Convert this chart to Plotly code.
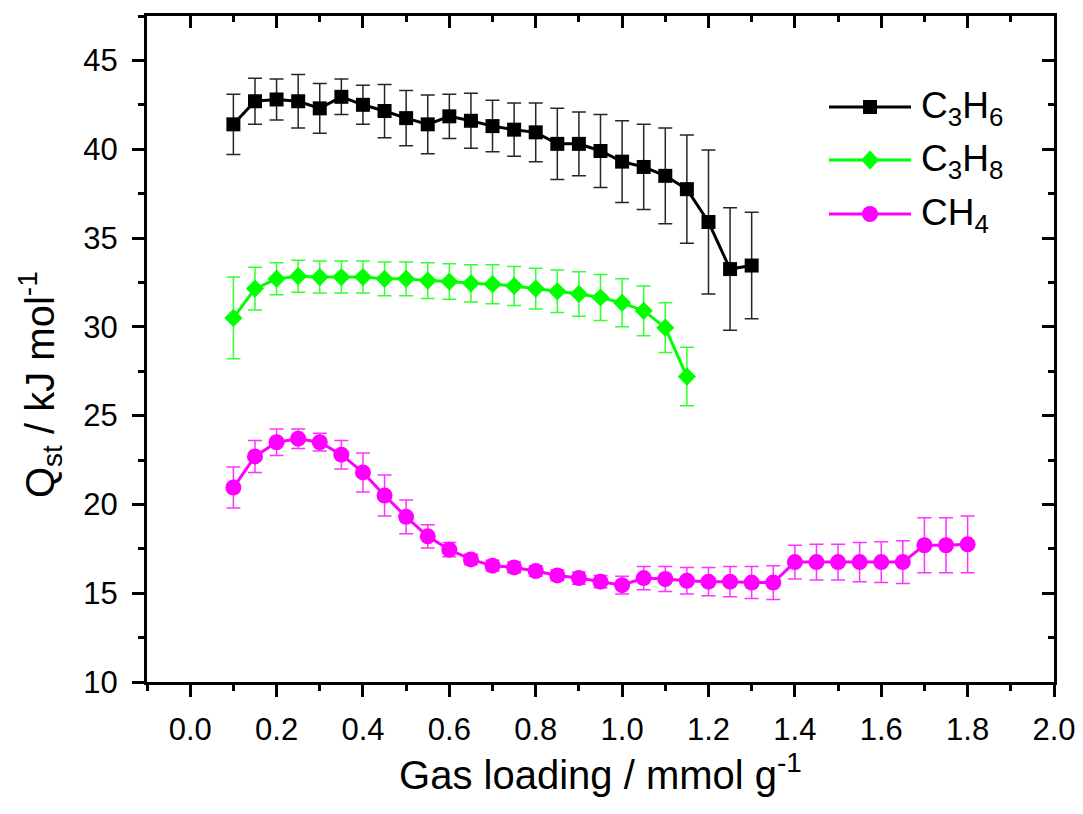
import plotly.graph_objects as go

# ---------------- data ----------------
x_c3h6 = [0.10, 0.15, 0.20, 0.25, 0.30, 0.35, 0.40, 0.45, 0.50, 0.55, 0.60, 0.65, 0.70,
          0.75, 0.80, 0.85, 0.90, 0.95, 1.00, 1.05, 1.10, 1.15, 1.20, 1.25, 1.30]
q_c3h6 = [41.4, 42.7, 42.8, 42.7, 42.3, 42.95, 42.5, 42.15, 41.75, 41.4, 41.85, 41.6, 41.3,
          41.1, 40.95, 40.3, 40.3, 39.9, 39.3, 39.0, 38.5, 37.75, 35.9, 33.25, 33.45]
e_c3h6 = [1.7, 1.3, 1.15, 1.5, 1.4, 1.0, 1.1, 1.5, 1.55, 1.65, 1.25, 1.55, 1.45,
          1.5, 1.65, 2.0, 1.8, 2.05, 2.3, 2.4, 2.7, 3.05, 4.05, 3.45, 3.0]

x_c3h8 = [0.10, 0.15, 0.20, 0.25, 0.30, 0.35, 0.40, 0.45, 0.50, 0.55, 0.60, 0.65, 0.70,
          0.75, 0.80, 0.85, 0.90, 0.95, 1.00, 1.05, 1.10, 1.15]
q_c3h8 = [30.5, 32.15, 32.7, 32.85, 32.8, 32.8, 32.8, 32.7, 32.7, 32.6, 32.55, 32.45, 32.4,
          32.3, 32.15, 32.0, 31.85, 31.65, 31.35, 30.9, 29.95, 27.2]
e_c3h8 = [2.3, 1.2, 0.9, 0.9, 0.9, 0.9, 0.9, 0.95, 0.95, 1.0, 1.0, 1.05, 1.1,
          1.1, 1.15, 1.2, 1.25, 1.3, 1.35, 1.4, 1.4, 1.65]

x_ch4 = [0.10, 0.15, 0.20, 0.25, 0.30, 0.35, 0.40, 0.45, 0.50, 0.55, 0.60, 0.65, 0.70,
         0.75, 0.80, 0.85, 0.90, 0.95, 1.00, 1.05, 1.10, 1.15, 1.20, 1.25, 1.30, 1.35,
         1.40, 1.45, 1.50, 1.55, 1.60, 1.65, 1.70, 1.75, 1.80]
q_ch4 = [20.95, 22.7, 23.5, 23.7, 23.5, 22.8, 21.8, 20.5, 19.3, 18.2, 17.45, 16.9, 16.55,
         16.45, 16.25, 16.0, 15.85, 15.65, 15.45, 15.85, 15.8, 15.7, 15.65, 15.65, 15.6, 15.6,
         16.75, 16.75, 16.75, 16.75, 16.75, 16.75, 17.7, 17.7, 17.75]
e_ch4 = [1.15, 0.9, 0.75, 0.55, 0.5, 0.8, 1.1, 1.15, 0.95, 0.65, 0.4, 0.3, 0.3,
         0.3, 0.3, 0.3, 0.35, 0.35, 0.5, 0.65, 0.7, 0.75, 0.8, 0.85, 0.9, 0.95,
         0.95, 1.0, 1.0, 1.1, 1.15, 1.2, 1.55, 1.55, 1.6]

series_names = ["C<sub>3</sub>H<sub>6</sub>", "C<sub>3</sub>H<sub>8</sub>", "CH<sub>4</sub>"]
x_title = "Gas loading / mmol g<sup>-1</sup>"
y_title = "Q<sub>st</sub> / kJ mol<sup>-1</sup>"

# ---------------- style ----------------
FONT = "Liberation Sans, Arial, sans-serif"
W, H = 1083, 814
ML, MR, MT, MB = 147, 29, 16, 132
PW, PH = W - ML - MR, H - MT - MB

def pxx(p):
    return (p - ML) / PW

def pxy(p):
    return (H - MB - p) / PH

styles = [
    dict(color="#000000", ecolor="#262626", symbol="square", size=14),
    dict(color="#00FF00", ecolor="#33FF33", symbol="diamond", size=14),
    dict(color="#FF00FF", ecolor="#FF33FF", symbol="circle", size=16),
]
data = [(x_c3h6, q_c3h6, e_c3h6), (x_c3h8, q_c3h8, e_c3h8), (x_ch4, q_ch4, e_ch4)]

fig = go.Figure()
for (xs, ys, es), st, nm in zip(data, styles, series_names):
    fig.add_trace(go.Scatter(
        x=xs, y=ys, name=nm, mode="lines+markers",
        line=dict(color=st["color"], width=3),
        marker=dict(symbol=st["symbol"], size=st["size"], color=st["color"], line=dict(width=0)),
        error_y=dict(type="data", array=es, visible=True, color=st["ecolor"], thickness=1.5, width=7),
        showlegend=False,
    ))

# invisible trace to anchor the mirrored (inside-tick) axes
fig.add_trace(go.Scatter(x=[None], y=[None], xaxis="x2", yaxis="y2", showlegend=False, hoverinfo="skip"))

XR = [-0.1, 2.0]
YR = [10, 47.5]
tickfont = dict(family=FONT, size=31, color="black")
common = dict(showgrid=False, zeroline=False, tickcolor="black", tickwidth=2.5, ticklen=12,
              automargin=False)

fig.update_layout(
    width=W, height=H,
    margin=dict(l=ML, r=MR, t=MT, b=MB, pad=0),
    paper_bgcolor="white", plot_bgcolor="white",
    font=dict(family=FONT, color="black"),
    xaxis=dict(range=XR, tick0=0, dtick=0.2, tickformat=".1f", ticks="outside",
               showline=True, linecolor="black", linewidth=3, mirror=True,
               tickfont=tickfont, ticklabelstandoff=6,
               minor=dict(dtick=0.1, ticks="outside", ticklen=6, tickwidth=2.5, tickcolor="black"),
               title=dict(text=x_title, font=dict(family=FONT, size=40, color="black"), standoff=10),
               **common),
    yaxis=dict(range=YR, tick0=10, dtick=5, ticks="outside",
               showline=True, linecolor="black", linewidth=3, mirror=True,
               tickfont=tickfont, ticklabelstandoff=8,
               minor=dict(dtick=2.5, ticks="outside", ticklen=6, tickwidth=2.5, tickcolor="black"),
               **common),
    xaxis2=dict(range=XR, overlaying="x", side="top", tick0=0, dtick=0.2, ticks="inside",
                showticklabels=False, showline=False,
                minor=dict(dtick=0.1, ticks="inside", ticklen=6, tickwidth=2.5, tickcolor="black"),
                **common),
    yaxis2=dict(range=YR, overlaying="y", side="right", tick0=10, dtick=5, ticks="inside",
                showticklabels=False, showline=False,
                minor=dict(dtick=2.5, ticks="inside", ticklen=6, tickwidth=2.5, tickcolor="black"),
                **common),
)

# y-axis title as rotated annotation
fig.add_annotation(text=y_title, xref="paper", yref="paper", x=pxx(40), y=pxy(385),
                   xanchor="center", yanchor="middle", textangle=-90, showarrow=False,
                   font=dict(family=FONT, size=40, color="black"))

# custom legend (line + marker + label)
rows_y = [107, 160, 214]
line_x0, line_x1, mk_x, txt_x = 829, 911, 870, 919
for st, nm, ry in zip(styles, series_names, rows_y):
    fig.add_shape(type="line", xref="paper", yref="paper",
                  x0=pxx(line_x0), x1=pxx(line_x1), y0=pxy(ry), y1=pxy(ry),
                  line=dict(color=st["color"], width=3))
    common_mk = dict(xref="paper", yref="paper", xsizemode="pixel", ysizemode="pixel",
                     xanchor=pxx(mk_x), yanchor=pxy(ry), fillcolor=st["color"], line=dict(width=0))
    if st["symbol"] == "square":
        fig.add_shape(type="rect", x0=-7, x1=7, y0=-7, y1=7, **common_mk)
    elif st["symbol"] == "circle":
        fig.add_shape(type="circle", x0=-8, x1=8, y0=-8, y1=8, **common_mk)
    else:
        fig.add_shape(type="path", path="M -9 0 L 0 9.5 L 9 0 L 0 -9.5 Z", **common_mk)
    fig.add_annotation(text=nm, xref="paper", yref="paper", x=pxx(txt_x), y=pxy(ry + 1),
                       xanchor="left", yanchor="middle", showarrow=False,
                       font=dict(family=FONT, size=37, color="black"))

fig.write_html("out.html")
